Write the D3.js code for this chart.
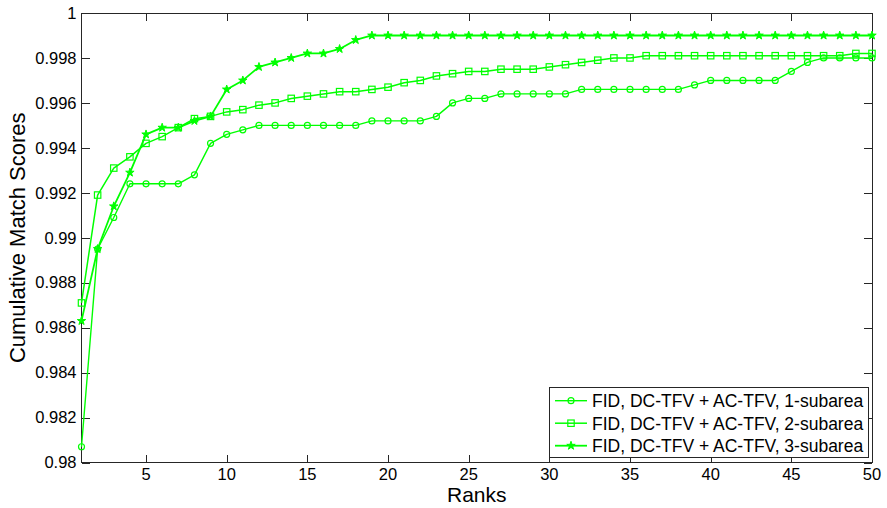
<!DOCTYPE html>
<html>
<head>
<meta charset="utf-8">
<script src="https://cdn.jsdelivr.net/npm/d3@7"></script>
<style>
  html, body { margin: 0; padding: 0; background: #fff; }
  svg { display: block; font-family: Arial, "Liberation Sans", sans-serif; }
</style>
</head>
<body>
<svg id="chart" width="887" height="508"></svg>
<script>
// Rank axis
const ranks = [1,2,3,4,5,6,7,8,9,10,11,12,13,14,15,16,17,18,19,20,21,22,23,24,25,
               26,27,28,29,30,31,32,33,34,35,36,37,38,39,40,41,42,43,44,45,46,47,48,49,50];

// Cumulative match scores per rank
const oneSubarea = [0.9807,0.9895,0.9909,0.9924,0.9924,0.9924,0.9924,0.9928,0.9942,0.9946,
                    0.9948,0.9950,0.9950,0.9950,0.9950,0.9950,0.9950,0.9950,0.9952,0.9952,
                    0.9952,0.9952,0.9954,0.9960,0.9962,0.9962,0.9964,0.9964,0.9964,0.9964,
                    0.9964,0.9966,0.9966,0.9966,0.9966,0.9966,0.9966,0.9966,0.9968,0.9970,
                    0.9970,0.9970,0.9970,0.9970,0.9974,0.9978,0.9980,0.9980,0.9980,0.9980];
const twoSubarea = [0.9871,0.9919,0.9931,0.9936,0.9942,0.9945,0.9949,0.9953,0.9954,0.9956,
                    0.9957,0.9959,0.9960,0.9962,0.9963,0.9964,0.9965,0.9965,0.9966,0.9967,
                    0.9969,0.9970,0.9972,0.9973,0.9974,0.9974,0.9975,0.9975,0.9975,0.9976,
                    0.9977,0.9978,0.9979,0.9980,0.9980,0.9981,0.9981,0.9981,0.9981,0.9981,
                    0.9981,0.9981,0.9981,0.9981,0.9981,0.9981,0.9981,0.9981,0.9982,0.9982];
const threeSubarea = [0.9863,0.9895,0.9914,0.9929,0.9946,0.9949,0.9949,0.9952,0.9954,0.9966,
                      0.9970,0.9976,0.9978,0.9980,0.9982,0.9982,0.9984,0.9988,0.9990,0.9990,
                      0.9990,0.9990,0.9990,0.9990,0.9990,0.9990,0.9990,0.9990,0.9990,0.9990,
                      0.9990,0.9990,0.9990,0.9990,0.9990,0.9990,0.9990,0.9990,0.9990,0.9990,
                      0.9990,0.9990,0.9990,0.9990,0.9990,0.9990,0.9990,0.9990,0.9990,0.9990];

const seriesNames = ["FID, DC-TFV + AC-TFV, 1-subarea",
                     "FID, DC-TFV + AC-TFV, 2-subarea",
                     "FID, DC-TFV + AC-TFV, 3-subarea"];
const seriesMarkers = ["circle", "square", "star"];

const xTickValues = [5,10,15,20,25,30,35,40,45,50];
const yTickValues = [0.98,0.982,0.984,0.986,0.988,0.99,0.992,0.994,0.996,0.998,1];
const yTickLabels = ["0.98","0.982","0.984","0.986","0.988","0.99","0.992","0.994","0.996","0.998","1"];

const xLabel = "Ranks";
const yLabel = "Cumulative Match Scores";

// ---- layout ----
const plot = { left: 81.5, right: 872, top: 13, bottom: 462.5 };
const green = "#00ff00";
const axisColor = "#262626";
const tickLen = 8;

const svg = d3.select("#chart");

const x = d3.scaleLinear().domain([1, 50]).range([plot.left, plot.right]);
const y = d3.scaleLinear().domain([0.98, 1]).range([plot.bottom, plot.top]);

// Axes box and inward ticks on all four sides
const axes = svg.append("g");
axes.append("rect")
  .attr("x", plot.left).attr("y", plot.top)
  .attr("width", plot.right - plot.left).attr("height", plot.bottom - plot.top)
  .attr("fill", "none").attr("stroke", axisColor).attr("stroke-width", 1)
  .attr("shape-rendering", "crispEdges");

const ticks = axes.append("g").attr("stroke", axisColor).attr("stroke-width", 1)
  .attr("shape-rendering", "crispEdges");
xTickValues.forEach(v => {
  const px = Math.round(x(v)) + 0.5;
  ticks.append("line").attr("x1", px).attr("x2", px).attr("y1", plot.bottom).attr("y2", plot.bottom - tickLen);
  ticks.append("line").attr("x1", px).attr("x2", px).attr("y1", plot.top).attr("y2", plot.top + tickLen);
});
yTickValues.forEach(v => {
  const py = Math.round(y(v)) + 0.5;
  ticks.append("line").attr("x1", plot.left).attr("x2", plot.left + tickLen).attr("y1", py).attr("y2", py);
  ticks.append("line").attr("x1", plot.right).attr("x2", plot.right - tickLen).attr("y1", py).attr("y2", py);
});

// Tick labels
const tickFont = 16.5;
axes.append("g").selectAll("text").data(xTickValues).join("text")
  .attr("x", d => x(d)).attr("y", 480)
  .attr("text-anchor", "middle").attr("font-size", tickFont).attr("fill", "#000")
  .text(d => d);
axes.append("g").selectAll("text").data(yTickValues).join("text")
  .attr("x", plot.left - 5).attr("y", d => y(d))
  .attr("dy", "0.35em")
  .attr("text-anchor", "end").attr("font-size", tickFont).attr("fill", "#000")
  .text((d, i) => yTickLabels[i]);

// Axis titles
svg.append("text")
  .attr("x", (plot.left + plot.right) / 2).attr("y", 501.5)
  .attr("text-anchor", "middle").attr("font-size", 21).attr("fill", "#000")
  .text(xLabel);
svg.append("text")
  .attr("transform", `translate(25,${(plot.top + plot.bottom) / 2}) rotate(-90)`)
  .attr("text-anchor", "middle").attr("font-size", 22).attr("fill", "#000")
  .text(yLabel);

// Marker drawing
function drawMarker(g, type, cx, cy) {
  if (type === "circle") {
    g.append("circle").attr("cx", cx).attr("cy", cy).attr("r", 3)
      .attr("fill", "none").attr("stroke", green).attr("stroke-width", 1.2);
  } else if (type === "square") {
    g.append("rect").attr("x", cx - 3.2).attr("y", cy - 3.2).attr("width", 6.4).attr("height", 6.4)
      .attr("fill", "none").attr("stroke", green).attr("stroke-width", 1.2);
  } else {
    g.append("path").attr("d", d3.symbol(d3.symbolStar, 22)())
      .attr("transform", `translate(${cx},${cy})`)
      .attr("fill", green).attr("stroke", green).attr("stroke-width", 1);
  }
}

// Series
const allSeries = [oneSubarea, twoSubarea, threeSubarea];
const lineWidths = [1.4, 1.5, 1.8];
const line = d3.line().x(d => x(d[0])).y(d => y(d[1]));

allSeries.forEach((vals, si) => {
  const pts = ranks.map((r, i) => [r, vals[i]]);
  const g = svg.append("g");
  g.append("path").attr("d", line(pts))
    .attr("fill", "none").attr("stroke", green).attr("stroke-width", lineWidths[si])
    .attr("stroke-linejoin", "round");
  pts.forEach(p => drawMarker(g, seriesMarkers[si], x(p[0]), y(p[1])));
});

// Legend
const legend = svg.append("g");
legend.append("rect")
  .attr("x", 549.5).attr("y", 387.5).attr("width", 319).attr("height", 70)
  .attr("fill", "#fff").attr("stroke", axisColor).attr("stroke-width", 1)
  .attr("shape-rendering", "crispEdges");
seriesNames.forEach((name, i) => {
  const cy = 400.7 + i * 22.5;
  const row = legend.append("g");
  row.append("line").attr("x1", 555).attr("x2", 587).attr("y1", cy).attr("y2", cy)
    .attr("stroke", green).attr("stroke-width", lineWidths[i]);
  drawMarker(row, seriesMarkers[i], 571, cy);
  row.append("text").attr("x", 592).attr("y", cy).attr("dy", "0.36em")
    .attr("font-size", 17.5).attr("fill", "#000").text(name);
});
</script>
</body>
</html>
